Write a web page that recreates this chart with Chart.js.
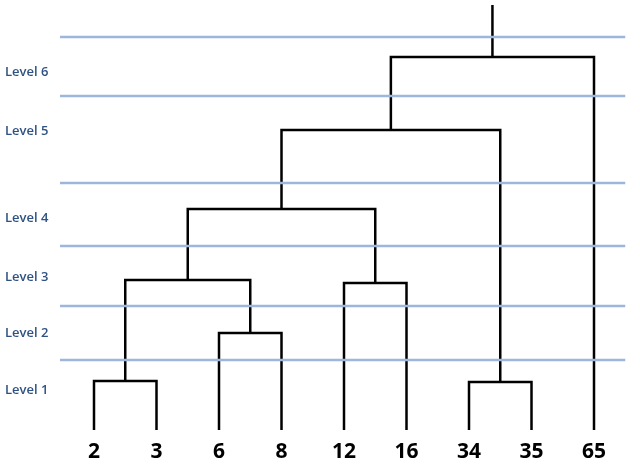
<!DOCTYPE html>
<html><head><script src="https://cdn.jsdelivr.net/npm/chart.js"></script>
<style>html,body{margin:0;background:#fff}#w{width:640px;height:471px}</style></head>
<body><div id="w"><canvas id="c"></canvas></div>
<script>
const leafLabels = ["2","3","6","8","12","16","34","35","65"];
const leafHeight = 41;
// merges: [left cluster, right cluster, height]; clusters 0..8 are leaves, 9+ are merges
const merges = [[0,1,90],[2,3,138],[4,5,188],[6,7,89],[9,10,191],[13,11,262],[14,12,341],[15,8,414]];
const rootTop = 466;
const levelLineHeights = [434,375,288,225,165,111];
const levelLabels = ["Level 6","Level 5","Level 4","Level 3","Level 2","Level 1"];
const levelLabelHeights = [399,340,253,194,138,81];

const nodes = leafLabels.map((l,i)=>({x:i,h:leafHeight}));
const datasets = [];
merges.forEach(([a,b,h])=>{
  const A=nodes[a],B=nodes[b];
  datasets.push({data:[{x:A.x,y:A.h},{x:A.x,y:h},{x:B.x,y:h},{x:B.x,y:B.h}],borderColor:'#000',borderWidth:2.5});
  nodes.push({x:(A.x+B.x)/2,h:h});
});
const root=nodes[nodes.length-1];
datasets.push({data:[{x:root.x,y:root.h},{x:root.x,y:rootTop}],borderColor:'#000',borderWidth:2.5});
levelLineHeights.forEach(h=>datasets.unshift({data:[{x:-0.544,y:h},{x:8.5,y:h}],borderColor:'#9db7dc',borderWidth:2.5}));

const textPlugin={id:'txt',afterDraw(c){
  const ctx=c.ctx,xs=c.scales.x,ys=c.scales.y;
  ctx.save();ctx.textAlign='center';ctx.textBaseline='middle';
  ctx.fillStyle='#000';ctx.font='bold 21px "Open Sans", sans-serif';
  leafLabels.forEach((l,i)=>ctx.fillText(l,xs.getPixelForValue(i),ys.getPixelForValue(19)));
  ctx.textAlign='left';ctx.fillStyle='#2f5283';ctx.font='600 13px "Open Sans", sans-serif';
  levelLabels.forEach((l,i)=>ctx.fillText(l,5,ys.getPixelForValue(levelLabelHeights[i])));
  ctx.restore();
}};
new Chart(document.getElementById('c'),{type:'line',data:{datasets},plugins:[textPlugin],
options:{responsive:true,maintainAspectRatio:false,animation:false,
 elements:{point:{radius:0},line:{tension:0}},
 plugins:{legend:{display:false},tooltip:{enabled:false}},
 layout:{padding:0},
 scales:{x:{type:'linear',min:-1.504,max:8.736,display:false},y:{min:0,max:471,display:false}}}});
</script></body></html>
